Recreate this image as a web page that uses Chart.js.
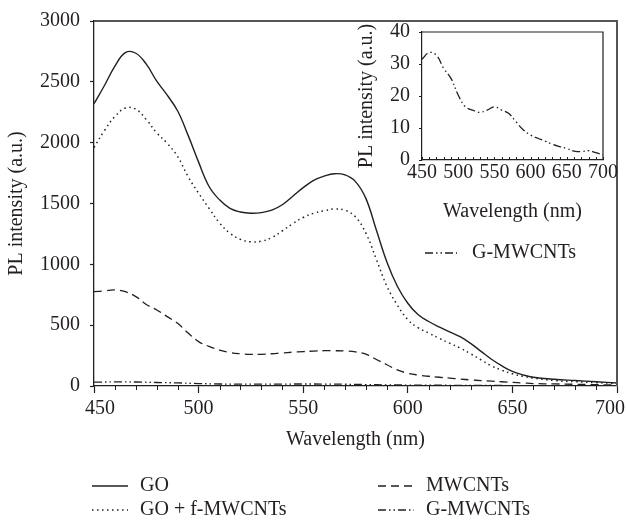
<!DOCTYPE html>
<html>
<head>
<meta charset="utf-8">
<script src="https://cdn.jsdelivr.net/npm/chart.js@4"></script>
<style>
  html, body { margin: 0; padding: 0; background: #fff; }
  #wrap { position: relative; width: 626px; height: 520px; }
  #mainChart { position: absolute; left: 0; top: 0; }
  #insetChart { position: absolute; left: 340px; top: 10px; }
</style>
</head>
<body>
<div id="wrap">
  <canvas id="mainChart" width="626" height="520"></canvas>
  <canvas id="insetChart" width="280" height="260"></canvas>
</div>
<script>
  // ========== DATA ==========
  const wavelengths = [450, 455, 460, 465, 470, 475, 480, 485, 490, 495, 500, 505, 510, 515, 520, 525, 530, 535, 540, 545,
                       550, 555, 560, 565, 570, 575, 580, 585, 590, 595, 600, 605, 610, 615, 620, 625, 630, 635, 640, 645,
                       650, 655, 660, 670, 680, 690, 700];
  const goValues = [2320, 2470, 2630, 2740, 2735, 2645, 2505, 2390, 2260, 2060, 1840, 1640, 1530, 1460, 1430, 1420, 1425, 1445, 1490, 1560,
                    1630, 1690, 1725, 1745, 1735, 1680, 1540, 1280, 1020, 820, 680, 585, 530, 485, 445, 405, 350, 285, 220, 165,
                    120, 92, 72, 55, 45, 35, 25];
  const goFmwValues = [1960, 2100, 2215, 2285, 2275, 2190, 2080, 1995, 1885, 1720, 1585, 1460, 1340, 1255, 1205, 1185, 1190, 1220, 1275, 1335,
                       1385, 1420, 1440, 1455, 1445, 1390, 1255, 1040, 820, 665, 545, 478, 435, 392, 352, 312, 265, 215, 165, 130,
                       100, 80, 65, 45, 35, 28, 20];
  const mwcntValues = [775, 782, 790, 775, 735, 670, 625, 570, 515, 435, 365, 325, 295, 275, 265, 260, 260, 265, 272, 278,
                       283, 287, 290, 290, 288, 280, 262, 218, 175, 132, 105, 90, 80, 72, 65, 57, 50, 45, 40, 35,
                       30, 25, 20, 17, 14, 11, 8];
  const gmwWavelengths = [450, 460, 470, 480, 490, 500, 510, 520, 530, 540, 550, 560, 570, 580, 590, 600, 610, 620, 630, 640,
                          650, 660, 670, 680, 690, 700];
  const gmwValues = [31.5, 33.6, 32.7, 28.6, 25.5, 20.3, 16.6, 15.6, 14.9, 15.6, 16.6, 15.6, 14.5, 11.9, 9.4, 7.8, 6.8, 5.9, 4.9, 4.2,
                     3.6, 2.8, 2.6, 2.9, 2.3, 1.6];

  const mainYTicks = { min: 0, max: 3000, step: 500 };
  const insetYTicks = { min: 0, max: 40, step: 10 };
  const xRange = { min: 450, max: 700, step: 50, minor: 10 };

  // ========== STYLE ==========
  const INK = '#231f20';
  const FONT = '"Liberation Serif", "Times New Roman", serif';
  Chart.defaults.font.family = FONT;
  Chart.defaults.font.size = 20;
  Chart.defaults.color = INK;

  const DASH_DOT_DOT = [8, 3, 1.5, 3, 1.5, 3];

  function points(xs, ys) { return xs.map((x, i) => ({ x: x, y: ys[i] })); }
  const plainNumber = v => String(v);

  // frame (top + right) and minor ticks on x axis
  const framePlugin = {
    id: 'frame',
    afterDraw(chart, args, opts) {
      const { ctx, chartArea: a, scales } = chart;
      ctx.save();
      ctx.strokeStyle = opts.color;
      ctx.lineWidth = opts.width;
      ctx.beginPath();
      ctx.moveTo(a.left, a.top);
      ctx.lineTo(a.right, a.top);
      ctx.lineTo(a.right, a.bottom);
      ctx.stroke();

      const xs = scales.x;
      ctx.strokeStyle = INK;
      ctx.lineWidth = 1;
      for (let v = xRange.min; v <= xRange.max; v += xRange.minor) {
        if (opts.skipMajor && v % xRange.step === 0) continue;
        const px = Math.round(xs.getPixelForValue(v)) + 0.5;
        ctx.beginPath();
        ctx.moveTo(px, a.bottom);
        ctx.lineTo(px, a.bottom + opts.minorDir * opts.minorLen);
        ctx.stroke();
      }

      // x tick labels kept inside the picture edges
      if (opts.xLabels) {
        const L = opts.xLabels;
        ctx.fillStyle = INK;
        ctx.font = '20px ' + FONT;
        ctx.textAlign = 'center';
        ctx.textBaseline = 'middle';
        xs.ticks.forEach((t, i) => {
          const text = plainNumber(t.value);
          const w = ctx.measureText(text).width;
          let cx = xs.getPixelForTick(i);
          cx = Math.max(cx, L.minLeft + w / 2);
          cx = Math.min(cx, L.maxRight - w / 2);
          ctx.fillText(text, cx, a.bottom + L.offset);
        });
      }
      ctx.restore();
    }
  };

  // legend drawn in columns like the figure
  const boxLegendPlugin = {
    id: 'boxLegend',
    afterDraw(chart, args, opts) {
      const ctx = chart.ctx;
      opts.items.forEach(it => {
        const ds = chart.data.datasets[it.index];
        ctx.save();
        ctx.strokeStyle = ds.borderColor;
        ctx.lineWidth = ds.borderWidth;
        ctx.setLineDash(ds.borderDash || []);
        ctx.beginPath();
        ctx.moveTo(it.x, it.y);
        ctx.lineTo(it.x + opts.lineLength, it.y);
        ctx.stroke();
        ctx.setLineDash([]);
        ctx.fillStyle = INK;
        ctx.font = '20px ' + FONT;
        ctx.textBaseline = 'middle';
        ctx.fillText(ds.label, it.x + opts.lineLength + opts.gap, it.y);
        ctx.restore();
      });
    }
  };

  // ========== MAIN CHART ==========
  new Chart(document.getElementById('mainChart'), {
    type: 'line',
    data: {
      datasets: [
        { label: 'GO', data: points(wavelengths, goValues), borderColor: INK, borderWidth: 1.4, borderDash: [] },
        { label: 'GO + f-MWCNTs', data: points(wavelengths, goFmwValues), borderColor: INK, borderWidth: 1.5, borderDash: [1.5, 3.5] },
        { label: 'MWCNTs', data: points(wavelengths, mwcntValues), borderColor: INK, borderWidth: 1.3, borderDash: [8, 5] },
        { label: 'G-MWCNTs', data: points(gmwWavelengths, gmwValues), borderColor: INK, borderWidth: 1.3, borderDash: DASH_DOT_DOT }
      ]
    },
    options: {
      responsive: false,
      animation: false,
      devicePixelRatio: 1,
      layout: { padding: { left: 0, top: 21, right: 9, bottom: 64 } },
      elements: { point: { radius: 0 }, line: { tension: 0.4, borderCapStyle: 'butt' } },
      scales: {
        x: {
          type: 'linear', min: xRange.min, max: xRange.max,
          ticks: { stepSize: xRange.step, display: false, callback: plainNumber },
          grid: { drawOnChartArea: false, tickLength: 7, tickColor: INK, tickWidth: 1.2 },
          border: { color: INK, width: 1.3 },
          title: { display: true, text: 'Wavelength (nm)', padding: { top: 0, bottom: 4 } },
          afterFit(s) { s.height = 70; s.paddingLeft = 0; s.paddingRight = 0; }
        },
        y: {
          min: mainYTicks.min, max: mainYTicks.max,
          ticks: { stepSize: mainYTicks.step, padding: 10, callback: plainNumber },
          grid: { drawOnChartArea: false, tickLength: 4, tickColor: INK, tickWidth: 1.2 },
          border: { color: INK, width: 1.3 },
          title: { display: true, text: 'PL intensity (a.u.)', padding: { top: 5, bottom: 0 } },
          afterFit(s) { s.width = 94; s.paddingTop = 0; s.paddingBottom = 0; }
        }
      },
      plugins: {
        legend: { display: false },
        tooltip: { enabled: false },
        frame: {
          color: '#555', width: 2, minorDir: 1, minorLen: 4, skipMajor: true,
          xLabels: { offset: 23, minLeft: 85, maxRight: 625 }
        },
        boxLegend: {
          lineLength: 36, gap: 12,
          items: [
            { index: 0, x: 92, y: 486 },
            { index: 1, x: 92, y: 510 },
            { index: 2, x: 378, y: 486 },
            { index: 3, x: 378, y: 510 }
          ]
        }
      }
    },
    plugins: [framePlugin, boxLegendPlugin]
  });

  // ========== INSET ==========
  new Chart(document.getElementById('insetChart'), {
    type: 'line',
    data: {
      datasets: [
        { label: 'G-MWCNTs', data: points(gmwWavelengths, gmwValues), borderColor: INK, borderWidth: 1.3, borderDash: DASH_DOT_DOT }
      ]
    },
    options: {
      responsive: false,
      animation: false,
      devicePixelRatio: 1,
      layout: { padding: { left: 0, top: 22, right: 17, bottom: 45 } },
      elements: { point: { radius: 0 }, line: { tension: 0.4, borderCapStyle: 'butt' } },
      scales: {
        x: {
          type: 'linear', min: xRange.min, max: xRange.max,
          ticks: { stepSize: xRange.step, padding: 1, maxRotation: 0, autoSkip: false, callback: plainNumber },
          grid: { drawOnChartArea: false, drawTicks: false },
          border: { color: INK, width: 1.2 },
          title: { display: true, text: 'Wavelength (nm)', padding: { top: 0, bottom: 1 } },
          afterFit(s) { s.height = 65; s.paddingLeft = 0; s.paddingRight = 0; }
        },
        y: {
          min: insetYTicks.min, max: insetYTicks.max,
          ticks: { stepSize: insetYTicks.step, padding: 9, callback: plainNumber },
          grid: { drawOnChartArea: false, tickLength: 3, tickColor: INK },
          border: { color: INK, width: 1.2 },
          title: { display: true, text: 'PL intensity (a.u.)', padding: { top: 15, bottom: 0 } },
          afterFit(s) { s.width = 82; s.paddingTop = 0; s.paddingBottom = 0; }
        }
      },
      plugins: {
        legend: { display: false },
        tooltip: { enabled: false },
        frame: { color: INK, width: 1.2, minorDir: -1, minorLen: 3, skipMajor: false },
        boxLegend: { lineLength: 32, gap: 15, items: [{ index: 0, x: 85, y: 243 }] }
      }
    },
    plugins: [framePlugin, boxLegendPlugin]
  });
</script>
</body>
</html>
